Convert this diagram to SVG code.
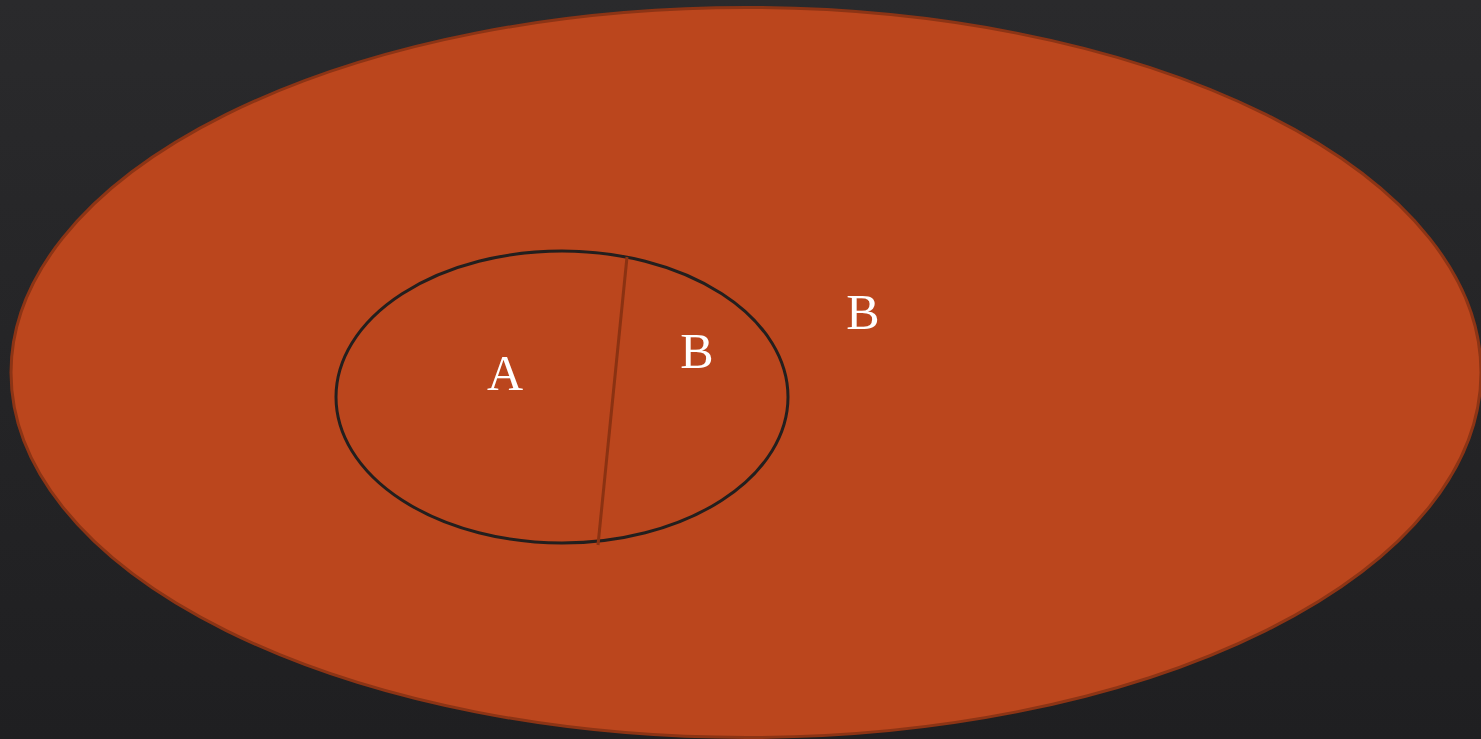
<svg xmlns="http://www.w3.org/2000/svg" width="1481" height="739" viewBox="0 0 1481 739">
<style>
.lbl{font-family:"Liberation Serif","DejaVu Serif",serif;font-size:50px;fill:#ffffff;text-anchor:middle}
</style>
<defs>
<linearGradient id="bg" x1="0" y1="0" x2="0" y2="1">
<stop offset="0" stop-color="#2a2a2c"/>
<stop offset="1" stop-color="#1f1f21"/>
</linearGradient>
</defs>
<rect width="1481" height="739" fill="url(#bg)"/>
<g id="outer">
<ellipse cx="746" cy="372.5" rx="735" ry="365" fill="#bb461d" stroke="#8c3415" stroke-width="3"/>
<text class="lbl" x="863" y="329">B</text>
</g>
<g id="inner">
<ellipse cx="562" cy="397" rx="226" ry="146" fill="none" stroke="#231f1e" stroke-width="3"/>
</g>
<g id="connectors">
<line x1="627" y1="257" x2="598" y2="545" stroke="#8b3212" stroke-width="3"/>
</g>
<g id="regionA">
<text class="lbl" x="505" y="390">A</text>
</g>
<g id="regionB">
<text class="lbl" x="697" y="368">B</text>
</g>
</svg>
